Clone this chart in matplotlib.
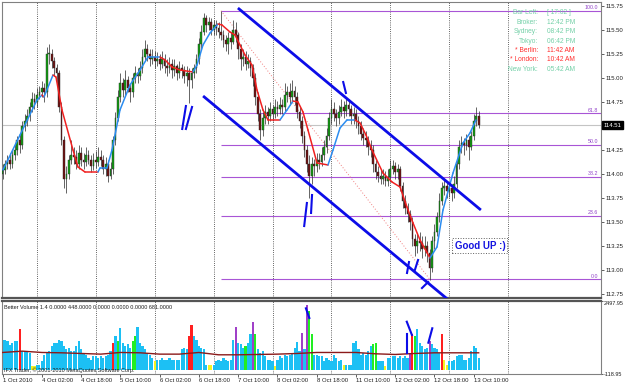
import numpy as np
import matplotlib
matplotlib.use("Agg")
import matplotlib.pyplot as plt
from matplotlib.collections import LineCollection
from matplotlib.transforms import blended_transform_factory as btf

plt.rcParams['font.family'] = ['Liberation Sans', 'DejaVu Sans']

# ---------------- data (USDJPY H1) ----------------
first_open = 114.00
close = [114.04, 114.10, 114.15, 114.10, 114.20, 114.25, 114.35, 114.30, 114.50, 114.55,
         114.60, 114.70, 114.78, 114.75, 114.82, 114.85, 114.90, 114.85, 115.25, 115.25,
         115.18, 115.10, 115.05, 114.70, 114.35, 113.95, 114.00, 114.15, 114.20, 114.18,
         114.10, 114.22, 114.15, 114.12, 114.20, 114.15, 114.08, 114.15, 114.12, 114.18,
         114.15, 114.05, 114.10, 113.98, 114.05, 114.35, 114.58, 114.80, 114.95, 114.88,
         114.98, 114.90, 114.85, 115.00, 115.05, 115.02, 115.10, 115.22, 115.30, 115.25,
         115.20, 115.22, 115.18, 115.20, 115.15, 115.20, 115.12, 115.10, 115.15, 115.08,
         115.12, 115.05, 115.10, 115.08, 115.02, 115.05, 114.98, 115.05, 115.10, 115.20,
         115.35, 115.48, 115.62, 115.55, 115.58, 115.50, 115.55, 115.52, 115.48, 115.45,
         115.40, 115.35, 115.42, 115.38, 115.50, 115.45, 115.30, 115.20, 115.22, 115.15,
         115.18, 115.10, 115.00, 114.80, 114.62, 114.46, 114.58, 114.65, 114.60, 114.68,
         114.63, 114.70, 114.68, 114.72, 114.70, 114.82, 114.85, 114.80, 114.86, 114.80,
         114.65, 114.55, 114.40, 114.25, 114.10, 113.98, 114.10, 114.08, 114.15, 114.12,
         114.20, 114.28, 114.40, 114.58, 114.68, 114.62, 114.58, 114.65, 114.70, 114.66,
         114.72, 114.68, 114.60, 114.62, 114.55, 114.50, 114.42, 114.38, 114.35, 114.28,
         114.25, 114.10, 114.02, 113.98, 113.95, 113.98, 113.93, 113.97, 114.05, 114.08,
         114.02, 114.05, 113.88, 113.72, 113.65, 113.58, 113.50, 113.32, 113.25, 113.30,
         113.28, 113.22, 113.25, 113.18, 113.02, 113.30, 113.40, 113.55, 113.72, 113.85,
         113.88, 113.82, 113.85, 113.80, 113.90, 114.10, 114.28, 114.32, 114.30, 114.35,
         114.28, 114.40, 114.55, 114.60, 114.51]
high = [114.10, 114.15, 114.20, 114.22, 114.26, 114.32, 114.40, 114.42, 114.55, 114.62,
        114.68, 114.75, 114.85, 114.84, 114.90, 114.92, 114.97, 114.95, 115.32, 115.35,
        115.30, 115.22, 115.15, 115.08, 114.75, 114.40, 114.08, 114.20, 114.35, 114.28,
        114.25, 114.30, 114.28, 114.22, 114.28, 114.25, 114.20, 114.22, 114.24, 114.28,
        114.25, 114.20, 114.18, 114.15, 114.12, 114.40, 114.65, 114.88, 115.05, 115.00,
        115.08, 115.02, 114.95, 115.05, 115.12, 115.10, 115.18, 115.30, 115.40, 115.35,
        115.30, 115.30, 115.28, 115.27, 115.25, 115.28, 115.25, 115.20, 115.22, 115.20,
        115.20, 115.15, 115.18, 115.15, 115.12, 115.12, 115.10, 115.10, 115.15, 115.25,
        115.42, 115.55, 115.68, 115.66, 115.64, 115.62, 115.60, 115.60, 115.58, 115.70,
        115.50, 115.45, 115.48, 115.48, 115.60, 115.58, 115.48, 115.35, 115.30, 115.28,
        115.25, 115.22, 115.15, 115.05, 114.85, 114.68, 114.65, 114.72, 114.70, 114.75,
        114.72, 114.78, 114.76, 114.80, 114.78, 114.95, 114.92, 114.95, 114.98, 114.92,
        114.85, 114.70, 114.60, 114.45, 114.30, 114.20, 114.18, 114.16, 114.22, 114.22,
        114.28, 114.35, 114.48, 114.65, 114.78, 114.75, 114.68, 114.72, 114.78, 114.76,
        114.80, 114.78, 114.72, 114.70, 114.68, 114.60, 114.55, 114.48, 114.45, 114.40,
        114.35, 114.30, 114.15, 114.08, 114.05, 114.05, 114.03, 114.05, 114.15, 114.15,
        114.12, 114.10, 114.08, 113.92, 113.78, 113.70, 113.62, 113.55, 113.38, 113.38,
        113.40, 113.35, 113.35, 113.30, 113.22, 113.35, 113.48, 113.60, 113.80, 113.92,
        113.95, 113.92, 113.92, 113.90, 113.98, 114.15, 114.35, 114.40, 114.38, 114.42,
        114.40, 114.45, 114.62, 114.70, 114.66]
low = [113.95, 114.00, 114.05, 114.05, 114.06, 114.15, 114.20, 114.22, 114.26, 114.45,
       114.50, 114.55, 114.65, 114.68, 114.70, 114.78, 114.80, 114.75, 114.80, 115.15,
       115.10, 115.02, 114.95, 114.65, 114.30, 113.85, 113.80, 113.95, 114.10, 114.10,
       114.05, 114.05, 114.08, 114.05, 114.08, 114.10, 114.02, 114.04, 114.06, 114.08,
       114.08, 114.00, 113.98, 113.92, 113.95, 114.00, 114.30, 114.55, 114.75, 114.80,
       114.82, 114.85, 114.75, 114.80, 114.95, 114.95, 114.98, 115.05, 115.18, 115.18,
       115.12, 115.15, 115.10, 115.12, 115.08, 115.10, 115.05, 115.02, 115.05, 115.00,
       115.02, 114.98, 115.00, 115.00, 114.95, 114.92, 114.74, 114.90, 115.00, 115.05,
       115.15, 115.30, 115.45, 115.48, 115.50, 115.45, 115.45, 115.45, 115.42, 115.40,
       115.32, 115.28, 115.25, 115.30, 115.35, 115.38, 115.20, 115.08, 115.12, 115.08,
       115.10, 115.02, 114.92, 114.72, 114.55, 114.35, 114.40, 114.52, 114.52, 114.55,
       114.55, 114.58, 114.60, 114.62, 114.62, 114.66, 114.75, 114.72, 114.75, 114.72,
       114.58, 114.48, 114.32, 114.18, 114.02, 113.75, 113.90, 113.98, 114.02, 114.05,
       114.08, 114.15, 114.22, 114.35, 114.52, 114.55, 114.50, 114.52, 114.60, 114.58,
       114.60, 114.60, 114.52, 114.52, 114.48, 114.42, 114.35, 114.30, 114.28, 114.20,
       114.18, 114.02, 113.95, 113.92, 113.90, 113.90, 113.88, 113.88, 113.92, 114.00,
       113.95, 113.95, 113.82, 113.65, 113.58, 113.50, 113.42, 113.25, 113.15, 113.18,
       113.20, 113.12, 113.15, 113.08, 112.90, 112.98, 113.22, 113.35, 113.50, 113.68,
       113.78, 113.75, 113.76, 113.72, 113.75, 113.85, 114.05, 114.22, 114.20, 114.25,
       114.15, 114.25, 114.35, 114.50, 114.48]

# coloured moving average (vertices): bar index, price
ma_bars = [0.16, 7.09, 14.02, 16.06, 16.87, 20.54, 21.76, 24.2, 28.69, 30.72, 33.57, 38.88,
           39.69, 42.54, 44.58, 47.84, 51.91, 55.99, 59.25, 64.14, 66.18, 69.03, 72.29, 77.59,
           79.22, 81.66, 84.52, 87.78, 89.41, 92.67, 94.7, 96.74, 98.78, 101.63, 103.67, 106.11,
           108.15, 113.04, 115.89, 118.34, 120.37, 122.41, 124.45, 128.12, 132.6, 134.64, 137.49,
           140.34, 143.6, 145.64, 148.09, 150.53, 155.01, 158.68, 161.94, 164.79, 167.24, 170.09,
           174.17, 177.02, 179.46, 183.54, 187.61, 190.46, 192.91]
ma_vals = [114.042, 114.406, 114.771, 114.823, 114.802, 115.031, 115.010, 114.667, 114.25,
           114.073, 114.021, 114.021, 114.063, 114.063, 114.25, 114.667, 114.927, 115.083,
           115.219, 115.219, 115.188, 115.115, 115.083, 115.063, 115.135, 115.344, 115.469,
           115.563, 115.552, 115.479, 115.448, 115.344, 115.24, 115.135, 114.875, 114.667,
           114.563, 114.563, 114.667, 114.76, 114.75, 114.646, 114.458, 114.115, 114.094,
           114.25, 114.479, 114.563, 114.563, 114.531, 114.406, 114.25, 114.01, 113.917,
           113.865, 113.656, 113.49, 113.313, 113.125, 113.24, 113.625, 114.01, 114.323,
           114.427, 114.563]

volume = [1080, 1080, 1040, 920, 1000, 1040, 1040, 1480, 680, 680,
          660, 620, 140, 140, 200, 200, 330, 560, 620, 680,
          880, 1000, 1000, 1100, 1040, 880, 750, 800, 680, 680,
          880, 1040, 750, 620, 560, 440, 380, 500, 500, 440,
          500, 440, 500, 560, 680, 1000, 1230, 1040, 1530, 1000,
          880, 940, 800, 1040, 1230, 1570, 1000, 880, 750, 620,
          560, 440, 320, 380, 380, 440, 380, 380, 440, 380,
          380, 380, 380, 750, 800, 750, 1230, 1640, 1230, 1100,
          880, 800, 750, 200, 200, 200, 200, 320, 380, 320,
          440, 380, 320, 380, 1100, 1570, 1000, 940, 800, 880,
          1000, 1290, 1740, 1300, 750, 620, 680, 500, 380, 380,
          320, 140, 380, 500, 440, 560, 500, 560, 620, 800,
          1020, 680, 1350, 750, 2350, 2150, 1300, 560, 560, 500,
          500, 320, 440, 380, 320, 560, 440, 320, 380, 200,
          200, 200, 200, 1000, 1040, 750, 560, 620, 560, 680,
          880, 940, 1000, 320, 320, 320, 140, 440, 440, 500,
          500, 440, 500, 440, 500, 440, 620, 1300, 1230, 1490,
          1000, 880, 750, 800, 1040, 940, 800, 750, 620, 1300,
          380, 200, 320, 320, 380, 500, 560, 560, 380, 380,
          440, 680, 880, 800, 440]
vol_special = {7: 'r', 12: 'y', 13: 'y', 45: 'r', 47: 'g', 53: 'g', 54: 'g', 62: 'y',
               76: 'r', 77: 'r', 84: 'y', 85: 'y', 95: 'p', 99: 'g', 102: 'p', 103: 'g',
               111: 'y', 122: 'p', 124: 'p', 125: 'g', 126: 'g', 139: 'y', 151: 'g',
               152: 'g', 156: 'y', 166: 'p', 167: 'r', 168: 'g', 174: 'p', 179: 'r',
               180: 'y', 181: 'y'}
vol_avg_bars = [0, 8, 16, 24, 32, 40, 48, 56, 64, 72, 80, 88, 96, 104, 112, 120, 128,
                136, 144, 152, 160, 168, 176, 184, 192, 194]
vol_avg = [640, 688, 640, 628, 604, 580, 640, 628, 580, 580, 640, 556, 556, 568, 580,
           604, 640, 640, 640, 592, 568, 604, 628, 628, 628, 628]

day_start_bars = [14, 38, 62, 86, 110, 134, 158, 182, 206]
tick_bars = [0, 16, 32, 48, 64, 80, 96, 112, 128, 144, 160, 176, 192]
tick_labels = ["1 Oct 2010", "4 Oct 02:00", "4 Oct 18:00", "5 Oct 10:00", "6 Oct 02:00",
               "6 Oct 18:00", "7 Oct 10:00", "8 Oct 02:00", "8 Oct 18:00", "11 Oct 10:00",
               "12 Oct 02:00", "12 Oct 18:00", "13 Oct 10:00"]
price_ticks = [112.75, 113.00, 113.25, 113.50, 113.75, 114.00, 114.25, 114.50,
               114.75, 115.00, 115.25, 115.50, 115.75]
vol_ticks = [-118.95, 2497.95]

fib_high_bar, fib_high = 89, 115.70
fib_low_bar, fib_low = 174, 112.906
fib_levels = [0.0, 23.6, 38.2, 50.0, 61.8, 100.0]
last_price = 114.51

chan_upper = ([95.9, 194.9], [115.729, 113.625])
chan_lower = ([81.7, 181.6], [114.8125, 112.69])
main_strokes = [([73.2, 74.7], [114.469, 114.708]), ([74.7, 77.2], [114.469, 114.698]),
                ([138.8, 139.9], [114.958, 114.844]), ([122.9, 124.0], [113.458, 113.698]),
                ([125.7, 126.1], [113.594, 113.781]), ([164.8, 165.6], [112.969, 113.083]),
                ([168.0, 169.3], [113.0, 113.104]), ([170.9, 173.4], [112.812, 112.875])]
vol_strokes = [([123.6, 125.0], [2234, 1884]), ([164.7, 166.8], [1751, 1271]),
               ([164.9, 164.9], [1296, 610]), ([173.5, 175.1], [993, 1513])]

info_labels = ["Bar Left:", "Broker:", "Sydney:", "Tokyo:", "* Berlin:", "* London:", "New York:"]
info_values = ["[ 17:02 ]", "12:42 PM", "08:42 PM", "06:42 PM", "11:42 AM", "10:42 AM", "05:42 AM"]
info_red = [False, False, False, False, True, True, False]

# ---------------- drawing ----------------
N = len(close)
assert len(high) == N and len(low) == N and len(volume) == N
opens = [first_open] + close[:-1]
x = np.arange(N)

W, H = 625, 387
fig = plt.figure(figsize=(W / 100, H / 100), dpi=100)
fig.patch.set_facecolor('white')


def px_axes(x0, y0, x1, y1):
    return [x0 / W, 1 - y1 / H, (x1 - x0) / W, (y1 - y0) / H]


ax = fig.add_axes(px_axes(2, 2, 601, 298))
axv = fig.add_axes(px_axes(2, 301, 601, 373.5))
XL = (-0.24, 243.85)
for a in (ax, axv):
    a.set_xlim(*XL)
    for s in a.spines.values():
        s.set_color('#808080')
        s.set_linewidth(0.8)
    for b in day_start_bars:
        a.axvline(b, color='#333333', lw=0.6, ls=(0, (1, 1.6)), zorder=0.5)
ax.spines['bottom'].set_color('#555555')
ax.spines['bottom'].set_linewidth(1.6)
axv.spines['top'].set_color('#555555')
axv.spines['top'].set_linewidth(1.6)
ax.set_ylim(112.7083, 115.7917)
axv.set_ylim(vol_ticks[0], vol_ticks[1])

# y axes on the right (the 114.50 label is hidden behind the current-price box)
ax.yaxis.tick_right()
ax.set_yticks(price_ticks, ["" if abs(t - last_price) < 0.05 else f"{t:.2f}"
                            for t in price_ticks])
ax.tick_params(axis='y', direction='out', length=2, width=0.5, pad=1, labelsize=4.3,
               colors='#202020')
ax.set_xticks([])
axv.yaxis.tick_right()
axv.set_yticks(vol_ticks, [f"{t:.2f}" for t in vol_ticks])
axv.tick_params(axis='y', direction='out', length=1.5, width=0.5, pad=0.6, labelsize=4.0,
                colors='#202020')
axv.get_yticklabels()[1].set_va('top')
axv.set_xticks(tick_bars, tick_labels)
axv.tick_params(axis='x', direction='out', length=2, width=0.5, pad=1, labelsize=4.3,
                colors='#202020')
for lbl in axv.get_xticklabels():
    lbl.set_ha('left')

# fibonacci
fspan = fib_high - fib_low
for lev in fib_levels:
    p = fib_low + fspan * lev / 100.0
    ax.hlines(p, fib_high_bar, XL[1], color='#a855d6', lw=0.8, zorder=1)
    ax.text(242.6, p + 0.005, f"{lev:.1f}", ha='right', va='bottom', fontsize=3.8,
            color='#9040c8', zorder=2)
ax.plot([fib_high_bar, fib_low_bar], [fib_high, fib_low], color='#f08080', lw=0.7,
        ls=(0, (1, 2)), zorder=1)

# last price line
ax.axhline(last_price, color='#c4c4c4', lw=0.8, zorder=0.8)

# candles
bull = np.array(close) >= np.array(opens)
ax.vlines(x, low, high, color='#3a3a3a', lw=0.55, zorder=3)
body_lo = np.minimum(opens, close)
body_h = np.maximum(np.abs(np.array(close) - np.array(opens)), 0.008)
ax.bar(x, body_h, bottom=body_lo, width=0.72,
       color=np.where(bull, '#12a012', '#701010'), edgecolor='#2a2a2a', linewidth=0.3,
       zorder=4)

# coloured MA
pts = np.column_stack([ma_bars, ma_vals])
segs = [pts[i:i + 2] for i in range(len(pts) - 1)]
cols = []
prev = '#2b8cf0'
for i in range(len(pts) - 1):
    d = ma_vals[i + 1] - ma_vals[i]
    if d > 0:
        prev = '#2b8cf0'
    elif d < 0:
        prev = '#f02020'
    cols.append(prev)
ax.add_collection(LineCollection(segs, colors=cols, linewidths=1.1, zorder=5,
                                 capstyle='round'))

# channel and hand strokes
for xs, ys in (chan_upper, chan_lower):
    ax.plot(xs, ys, color='#0c0ce8', lw=2.0, solid_capstyle='butt', zorder=6)
for xs, ys in main_strokes:
    ax.plot(xs, ys, color='#0c0ce8', lw=1.5, zorder=6)

# good up label
ax.text(194.5, 113.255, "Good UP :)", ha='center', va='center', fontsize=7,
        fontweight='bold', color='#1414e0', zorder=7,
        bbox=dict(boxstyle='square,pad=0.22', facecolor='white', edgecolor='#606060',
                  linestyle=':', lw=0.7))

# current price box
ax.text(1.004, last_price, f"{last_price:.2f}", transform=btf(ax.transAxes, ax.transData),
        color='white', fontsize=4.3, va='center', ha='left', clip_on=False, zorder=20,
        bbox=dict(boxstyle='square,pad=0.25', facecolor='black', edgecolor='black'))

# info panel
for k, (lab, val, red) in enumerate(zip(info_labels, info_values, info_red)):
    ypx = 13 + k * 9.35
    yf = 1 - (ypx - 2) / 296
    c = '#ff3030' if red else '#74d0a8'
    ax.text(0.8948, yf, lab, transform=ax.transAxes, ha='right', va='center',
            fontsize=4.8, color=c, zorder=8)
    ax.text(0.9098, yf, val, transform=ax.transAxes, ha='left', va='center',
            fontsize=4.8, color=c, zorder=8)

# volume panel
vcmap = {'b': '#1cc0f4', 'r': '#ff2020', 'g': '#22ee22', 'y': '#f2f222', 'p': '#a040c8'}
vcolors = [vcmap[vol_special.get(i, 'b')] for i in range(N)]
axv.bar(x, volume, width=0.88, color=vcolors, linewidth=0, zorder=2)
axv.plot(vol_avg_bars, vol_avg, color='#8b1a1a', lw=1.0, zorder=3)
for xs, ys in vol_strokes:
    axv.plot(xs, ys, color='#0c0ce8', lw=1.5, zorder=6)
axv.text(0.0035, 0.908, "Better Volume 1.4 0.0000 448.0000 0.0000 0.0000 0.0000 681.0000",
         transform=axv.transAxes, fontsize=4.0, va='center', ha='left', color='#202020',
         zorder=8)
axv.text(0.0035, 0.04, "IFX Trader, \u00a9 2001-2010 MetaQuotes Software Corp.",
         transform=axv.transAxes, fontsize=4.0, va='center', ha='left', color='#202020',
         zorder=8)

fig.savefig("out.png", dpi=100, facecolor='white')
